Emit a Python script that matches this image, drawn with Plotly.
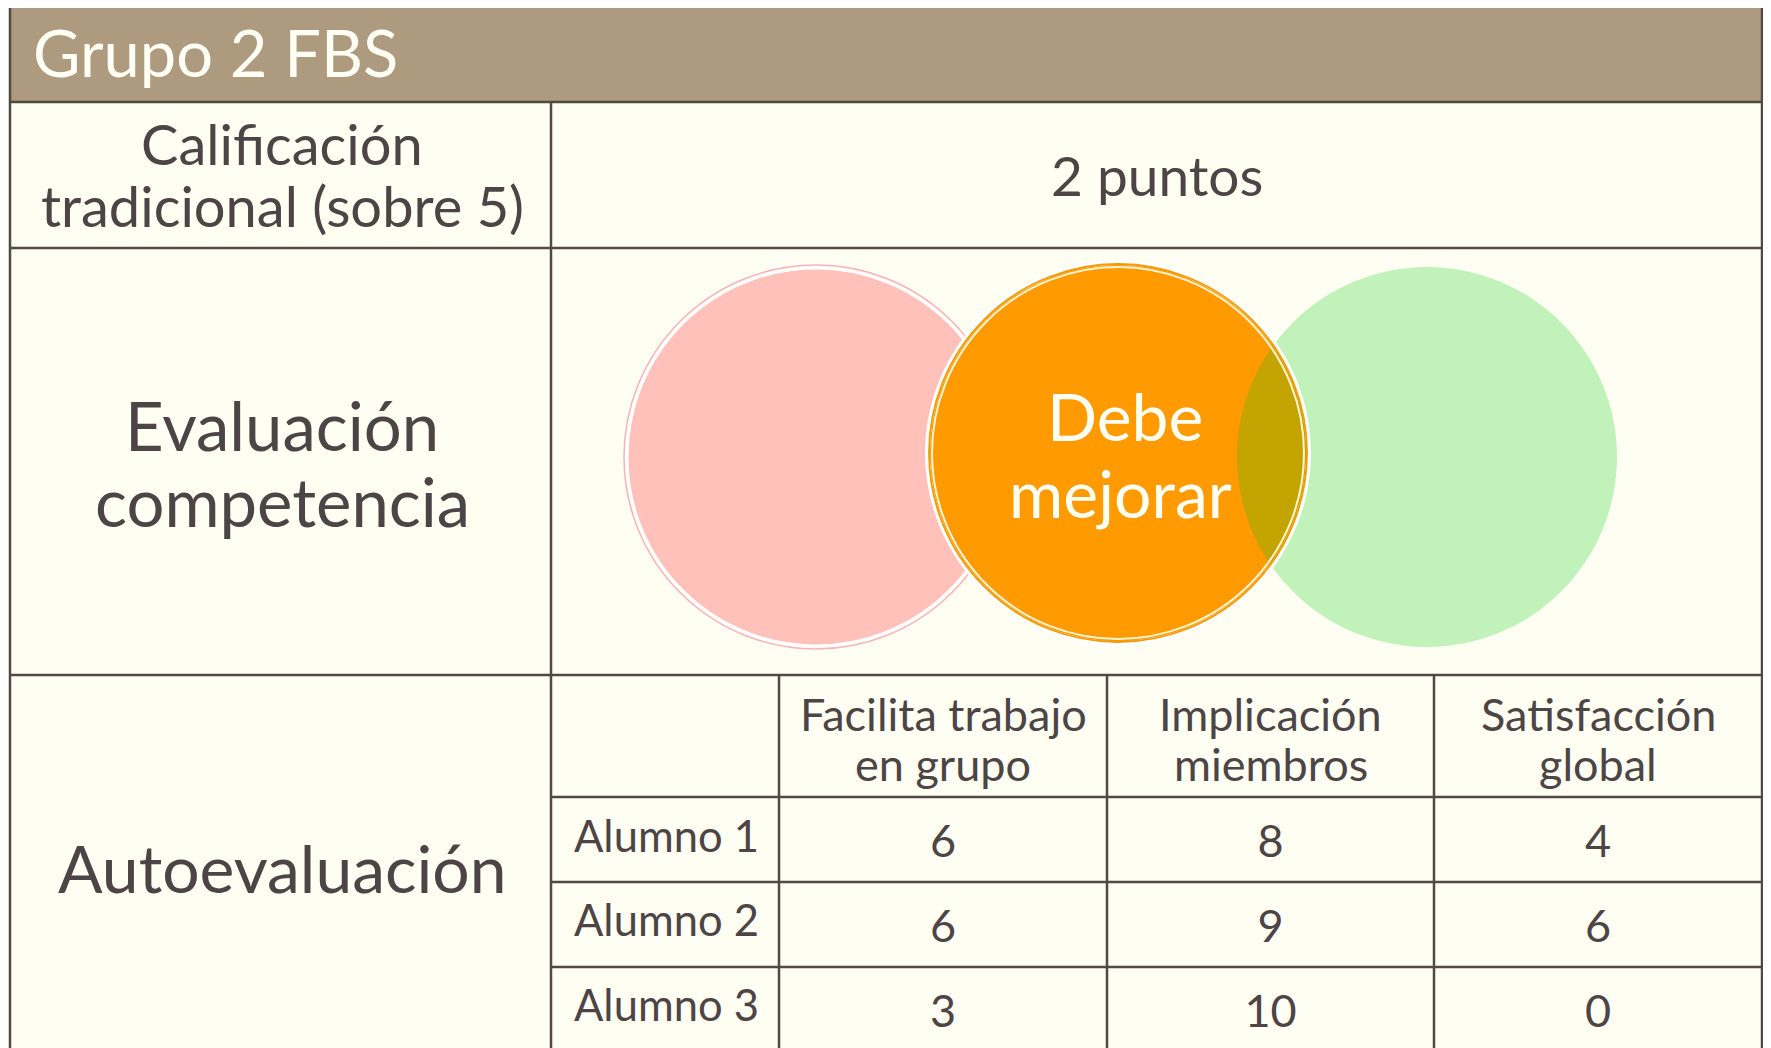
import numpy as np
import plotly.graph_objects as go

W, H = 1771, 1048
OFF = 8  # page body margin: shift the plotting area so page pixels == data units

# ---------------- data ----------------
title = "Grupo 2 FBS"
row_labels = [["Calificación", "tradicional (sobre 5)"],
              ["Evaluación", "competencia"],
              ["Autoevaluación"]]
grade_text = "2 puntos"
venn_colors = ["#FFC1B9", "#FF9A00", "#C1F2BA"]
venn_labels = [[], ["Debe", "mejorar"], []]
overlap_color = "#C4A400"
criteria = [["Facilita trabajo", "en grupo"],
            ["Implicación", "miembros"],
            ["Satisfacción", "global"]]
students = ["Alumno 1", "Alumno 2", "Alumno 3"]
facilita = [6, 6, 3]
implicacion = [8, 9, 10]
satisfaccion = [4, 6, 0]

# ---------------- layout geometry ----------------
FONT = "Lato"
TXT = "#4D4545"
LINE = "#514944"
BG = "#FFFEF3"
HEAD = "#AE9A7E"
LW = 2.5

xL, xR, yT = 10, 1762, 6
y_head = 102
y_r1 = 248
y_r2 = 675
x_div = 551
col_x = [779, 1107, 1434]
row_y = [797, 882, 967]

fig = go.Figure()
shapes = []
ann = []

def hline(y, x0, x1):
    shapes.append(dict(type="line", x0=x0, x1=x1, y0=y, y1=y,
                       line=dict(color=LINE, width=LW), layer="above"))

def vline(x, y0, y1):
    shapes.append(dict(type="line", x0=x, x1=x, y0=y0, y1=y1,
                       line=dict(color=LINE, width=LW), layer="above"))

# header band
shapes.append(dict(type="rect", x0=xL, x1=xR, y0=yT, y1=y_head,
                   fillcolor=HEAD, line=dict(width=0), layer="below"))

# circles
circ = [(816, 457, 189), (1118, 453, 188), (1427, 457, 190)]
# pink
cx, cy, r = circ[0]
shapes.append(dict(type="circle", x0=cx - r - 3, x1=cx + r + 3, y0=cy - r - 3, y1=cy + r + 3,
                   line=dict(color="#F7B3B8", width=1.5), fillcolor="rgba(0,0,0,0)", layer="below"))
shapes.append(dict(type="circle", x0=cx - r, x1=cx + r, y0=cy - r, y1=cy + r,
                   line=dict(color="white", width=3), fillcolor=venn_colors[0], layer="below"))
# green
cx, cy, r = circ[2]
shapes.append(dict(type="circle", x0=cx - r, x1=cx + r, y0=cy - r, y1=cy + r,
                   line=dict(width=0), fillcolor=venn_colors[2], layer="below"))
# orange
cx, cy, r = circ[1]
shapes.append(dict(type="circle", x0=cx - r - 5, x1=cx + r + 5, y0=cy - r - 5, y1=cy + r + 5,
                   line=dict(width=0), fillcolor="white", layer="below"))
shapes.append(dict(type="circle", x0=cx - r, x1=cx + r, y0=cy - r, y1=cy + r,
                   line=dict(width=0), fillcolor=venn_colors[1], layer="below"))

# overlap lens (orange ∩ green)
(ox, oy, orr), (gx, gy, gr) = circ[1], circ[2]
t = np.linspace(-np.pi, np.pi, 1441)
px_o, py_o = ox + orr * np.cos(t), oy + orr * np.sin(t)
m_o = (px_o - gx) ** 2 + (py_o - gy) ** 2 <= gr ** 2
t2 = np.linspace(0, 2 * np.pi, 1441)
px_g, py_g = gx + gr * np.cos(t2), gy + gr * np.sin(t2)
m_g = (px_g - ox) ** 2 + (py_g - oy) ** 2 <= orr ** 2
lx = np.concatenate([px_o[m_o], px_g[m_g]])
ly = np.concatenate([py_o[m_o], py_g[m_g]])
path = "M " + " L ".join(f"{a:.1f},{b:.1f}" for a, b in zip(lx, ly)) + " Z"
shapes.append(dict(type="path", path=path, fillcolor=overlap_color,
                   line=dict(width=0), layer="below"))
# orange double outline
shapes.append(dict(type="circle", x0=ox - orr + 2, x1=ox + orr - 2, y0=oy - orr + 2, y1=oy + orr - 2,
                   line=dict(color="rgba(255,255,235,0.9)", width=2), fillcolor="rgba(0,0,0,0)", layer="below"))
shapes.append(dict(type="circle", x0=ox - orr - 1, x1=ox + orr + 1, y0=oy - orr - 1, y1=oy + orr + 1,
                   line=dict(color="#F29A00", width=1.8), fillcolor="rgba(0,0,0,0)", layer="below"))

# grid lines
shapes.append(dict(type="line", x0=xL, x1=xR, y0=yT, y1=yT, line=dict(color=LINE, width=LW)))
vline(xL, yT, H + 5)
vline(xR, yT, H + 5)
hline(y_head, xL, xR)
hline(y_r1, xL, xR)
hline(y_r2, xL, xR)
vline(x_div, y_head, H + 5)
for x in col_x:
    vline(x, y_r2, H + 5)
for y in row_y:
    hline(y, x_div, xR)

def text(x, y, s, size, color=TXT, xanchor="center"):
    ann.append(dict(x=x, y=y, text=s, showarrow=False, xanchor=xanchor, yanchor="middle",
                    font=dict(family=FONT, size=size, color=color)))

# title
text(31, 52, title, 65, color="#FFFFF6", xanchor="left")

# left labels
lab_x = 282
text(lab_x, 143, row_labels[0][0], 56)
text(lab_x, 205, row_labels[0][1], 56)
text(lab_x, 425, row_labels[1][0], 67)
text(lab_x, 501, row_labels[1][1], 67)
text(lab_x, 867, row_labels[2][0], 66)

# grade
text(1157, 175, grade_text, 55)

# venn label
text(1125, 415, venn_labels[1][0], 66, color="#FFFFF4")
text(1120, 492, venn_labels[1][1], 66, color="#FFFFF4")

# criteria headers
ccenters = [(col_x[i] + (col_x[i + 1] if i + 1 < len(col_x) else xR)) / 2 for i in range(len(col_x))]
for c, lines in zip(ccenters, criteria):
    text(c, 714, lines[0], 45)
    text(c, 764, lines[1], 45)

rcenters = [835, 919, 1004]
for y, s in zip(rcenters, students):
    text(572, y, s, 43.5, xanchor="left")

# values through a text trace
vx, vy, vt = [], [], []
vcenters = [846, 931, 1016]
for c, series in zip(ccenters, [facilita, implicacion, satisfaccion]):
    for y, v in zip(vcenters, series):
        vx.append(c); vy.append(y); vt.append(str(v))
fig.add_trace(go.Scatter(x=vx, y=vy, text=vt, mode="text", textposition="middle center",
                         textfont=dict(family=FONT, size=45, color=TXT), hoverinfo="skip",
                         showlegend=False))

fig.update_layout(
    width=W - OFF, height=H - OFF, margin=dict(l=0, r=0, t=0, b=0),
    paper_bgcolor=BG, plot_bgcolor=BG,
    xaxis=dict(range=[OFF, W], visible=False, fixedrange=True),
    yaxis=dict(range=[H, OFF], visible=False, fixedrange=True),
    shapes=shapes, annotations=ann, showlegend=False,
)
fig.write_html("out.html")
